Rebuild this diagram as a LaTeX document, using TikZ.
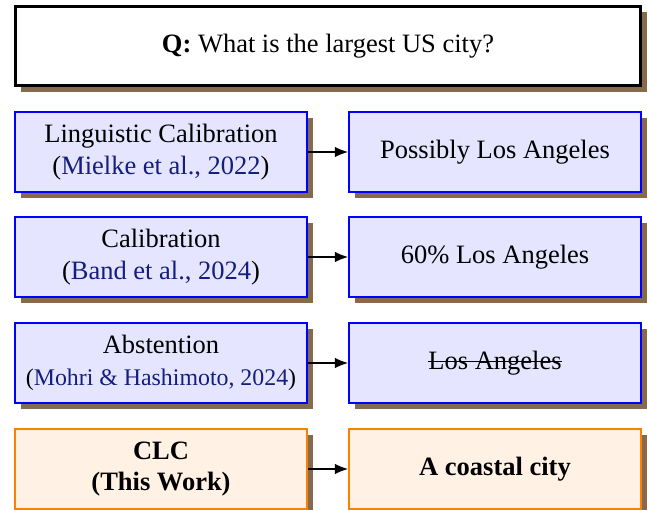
\documentclass[tikz,border=0pt]{standalone}
\usepackage{fontspec}
\setmainfont{Liberation Serif}
\usetikzlibrary{shadows,arrows.meta}

\definecolor{shadowbrown}{RGB}{134,106,77}
\definecolor{citeblue}{RGB}{20,30,125}
\newcommand{\citeref}[1]{(\textcolor{citeblue}{#1})}
\newcommand{\strikeout}[1]{\leavevmode\setbox0\hbox{#1}\rlap{\rule[0.6ex]{\wd0}{0.5pt}}\box0}

\begin{document}
\begin{tikzpicture}[x=0.3774pt,y=-0.3774pt,
    boxshadow/.style={drop shadow={shadow xshift=2.3pt,shadow yshift=-2.3pt,
        fill=shadowbrown,opacity=1}},
    questionbox/.style={draw=black,line width=1.2pt,fill=white,boxshadow,
        minimum width=236pt,minimum height=30pt,align=center},
    methodbox/.style={draw=blue,line width=0.9pt,fill=blue!10,boxshadow,
        minimum width=110pt,minimum height=30pt,align=center},
    answerbox/.style={methodbox},
    ourbox/.style={methodbox,draw=orange,fill=orange!10,font=\bfseries},
    link/.style={-{Latex[length=5pt,width=4pt]},line width=0.5pt}]
    \useasboundingbox (0,0) rectangle (647,510);

    \node[questionbox] (q) at (328,46) {\textbf{Q:} What is the largest US city?};

    \node[methodbox] (ling) at (161,152) {Linguistic Calibration\\\citeref{Mielke et al., 2022}};
    \node[answerbox] (possibly) at (495,152) {Possibly Los Angeles};

    \node[methodbox] (calib) at (161,257) {Calibration\\\citeref{Band et al., 2024}};
    \node[answerbox] (percent) at (495,257) {60\% Los Angeles};

    \node[methodbox] (abst) at (161,363) {Abstention\\{\small\citeref{Mohri \& Hashimoto, 2024}}};
    \node[answerbox] (struck) at (495,363) {\strikeout{Los Angeles}};

    \node[ourbox] (clc) at (161,469) {CLC\\(This Work)};
    \node[ourbox] (coastal) at (495,469) {A coastal city};

    \draw[link] (ling) -- (possibly);
    \draw[link] (calib) -- (percent);
    \draw[link] (abst) -- (struck);
    \draw[link] (clc) -- (coastal);
\end{tikzpicture}
\end{document}
